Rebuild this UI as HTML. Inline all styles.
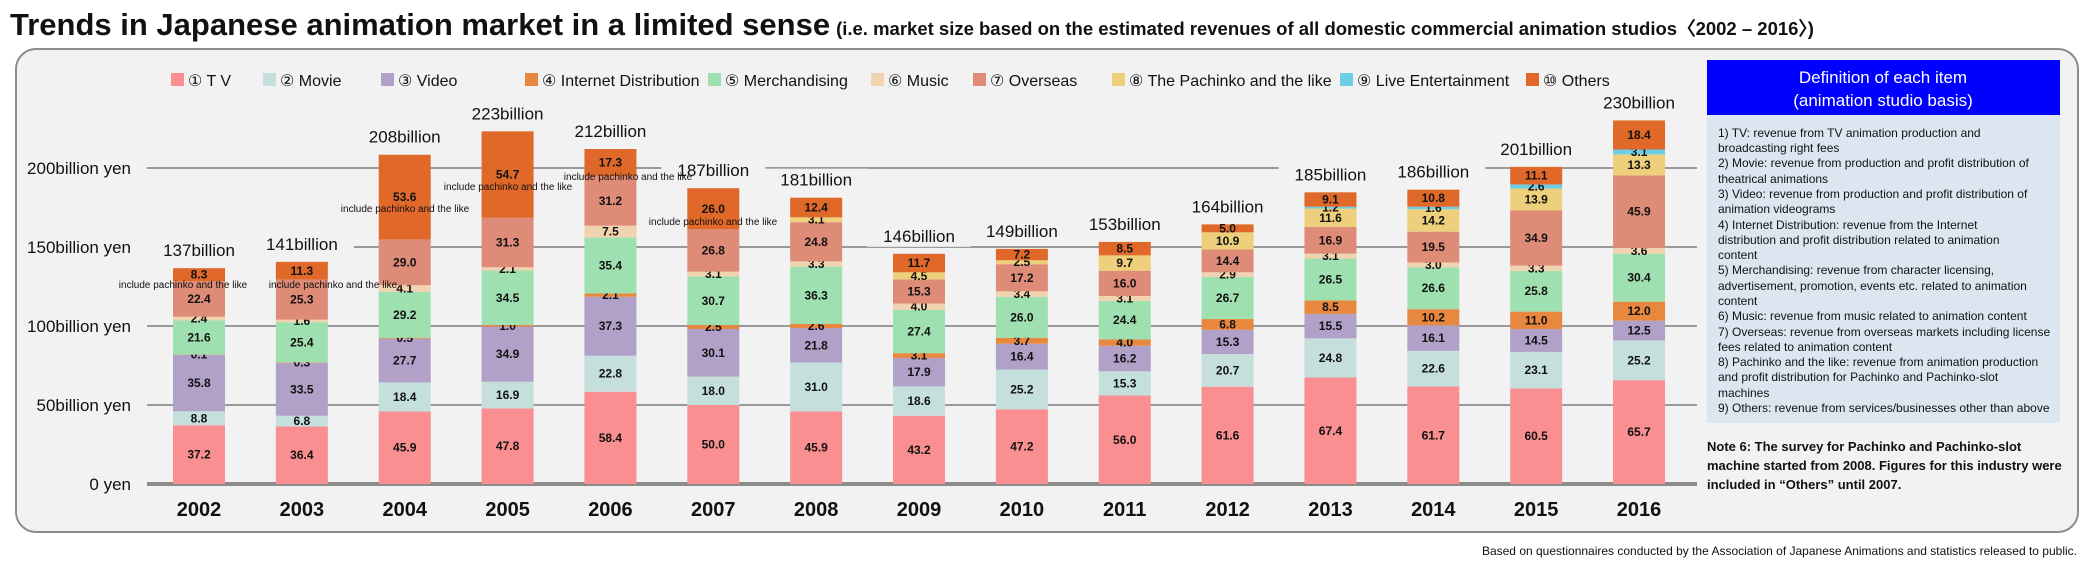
<!DOCTYPE html>
<html><head><meta charset="utf-8">
<style>
body{margin:0;background:#fff;width:2095px;height:588px;overflow:hidden;font-family:"Liberation Sans",sans-serif}
svg{display:block}
</style></head><body>
<svg id="chart" width="2095" height="588" viewBox="0 0 2095 588" xmlns="http://www.w3.org/2000/svg">
<text x="10" y="35" font-size="31" font-weight="bold" fill="#111">Trends in Japanese animation market in a limited sense<tspan font-size="18.5" dx="6">(i.e. market size based on the estimated revenues of all domestic commercial animation studios〈2002 – 2016〉)</tspan></text>
<rect x="16" y="49" width="2062" height="483" rx="20" fill="#f2f2f2" stroke="#8c8c8c" stroke-width="2"/>
<g id="grid"></g>
<g id="bars"></g>
<g id="legend"></g>
<rect x="1707" y="60" width="353" height="55" fill="#0000ff"/>
<text x="1883" y="83" font-size="17" fill="#fff" text-anchor="middle">Definition of each item</text>
<text x="1883" y="106" font-size="17" fill="#fff" text-anchor="middle">(animation studio basis)</text>
<rect x="1707" y="115" width="353" height="308" fill="#dce6f1"/>
<g font-size="12" fill="#111">
<text x="1718" y="137">1) TV: revenue from TV animation production and</text>
<text x="1718" y="152">broadcasting right fees</text>
<text x="1718" y="167">2) Movie: revenue from production and profit distribution of</text>
<text x="1718" y="183">theatrical animations</text>
<text x="1718" y="198">3) Video: revenue from production and profit distribution of</text>
<text x="1718" y="213">animation videograms</text>
<text x="1718" y="229">4) Internet Distribution: revenue from the Internet</text>
<text x="1718" y="244">distribution and profit distribution related to animation</text>
<text x="1718" y="259">content</text>
<text x="1718" y="274">5) Merchandising: revenue from character licensing,</text>
<text x="1718" y="290">advertisement, promotion, events etc. related to animation</text>
<text x="1718" y="305">content</text>
<text x="1718" y="320">6) Music: revenue from music related to animation content</text>
<text x="1718" y="336">7) Overseas: revenue from overseas markets including license</text>
<text x="1718" y="351">fees related to animation content</text>
<text x="1718" y="366">8) Pachinko and the like: revenue from animation production</text>
<text x="1718" y="381">and profit distribution for Pachinko and Pachinko-slot</text>
<text x="1718" y="397">machines</text>
<text x="1718" y="412">9) Others: revenue from services/businesses other than above</text>
</g>
<g font-size="13" font-weight="bold" fill="#111">
<text x="1707" y="451">Note 6: The survey for Pachinko and Pachinko-slot</text>
<text x="1707" y="470">machine started from 2008. Figures for this industry were</text>
<text x="1707" y="489">included in “Others” until 2007.</text>
</g>
<text x="2077" y="555" font-size="12" fill="#111" text-anchor="end">Based on questionnaires conducted by the Association of Japanese Animations and statistics released to public.</text>
</svg>
<script>
const years=["2002","2003","2004","2005","2006","2007","2008","2009","2010","2011","2012","2013","2014","2015","2016"];
const tv=[37.2,36.4,45.9,47.8,58.4,50.0,45.9,43.2,47.2,56.0,61.6,67.4,61.7,60.5,65.7];
const movie=[8.8,6.8,18.4,16.9,22.8,18.0,31.0,18.6,25.2,15.3,20.7,24.8,22.6,23.1,25.2];
const video=[35.8,33.5,27.7,34.9,37.3,30.1,21.8,17.9,16.4,16.2,15.3,15.5,16.1,14.5,12.5];
const internet=[0.1,0.3,0.5,1.0,2.1,2.5,2.6,3.1,3.7,4.0,6.8,8.5,10.2,11.0,12.0];
const merch=[21.6,25.4,29.2,34.5,35.4,30.7,36.3,27.4,26.0,24.4,26.7,26.5,26.6,25.8,30.4];
const music=[2.4,1.6,4.1,2.1,7.5,3.1,3.3,4.0,3.4,3.1,2.9,3.1,3.0,3.3,3.6];
const overseas=[22.4,25.3,29.0,31.3,31.2,26.8,24.8,15.3,17.2,16.0,14.4,16.9,19.5,34.9,45.9];
const pachinko=[0,0,0,0,0,0,3.1,4.5,2.5,9.7,10.9,11.6,14.2,13.9,13.3];
const live=[0,0,0,0,0,0,0,0,0,0,0,1.2,1.6,2.6,3.1];
const others=[8.3,11.3,53.6,54.7,17.3,26.0,12.4,11.7,7.2,8.5,5.0,9.1,10.8,11.1,18.4];
const totals=["137billion","141billion","208billion","223billion","212billion","187billion","181billion","146billion","149billion","153billion","164billion","185billion","186billion","201billion","230billion"];
const yTicks=[0,50,100,150,200];
const yTickLabels=["0 yen","50billion yen","100billion yen","150billion yen","200billion yen"];
const seriesNames=["① T V","② Movie","③ Video","④ Internet Distribution","⑤ Merchandising","⑥ Music","⑦ Overseas","⑧ The Pachinko and the like","⑨ Live Entertainment","⑩ Others"];
const series=[tv,movie,video,internet,merch,music,overseas,pachinko,live,others];
const colors=["#f98f91","#c5e0dc","#b1a0c7","#e8873e","#9fe0b0","#f2d3b0","#de8b78","#edcf7c","#6ccfe6","#e0692a"];
const NS="http://www.w3.org/2000/svg";
const y=v=>484-v*1.58;
const x=i=>199+i*102.86;
const BW=52;
function mk(tag,attrs,parent,text){const e=document.createElementNS(NS,tag);for(const k in attrs)e.setAttribute(k,attrs[k]);if(text!==undefined)e.textContent=text;parent.appendChild(e);return e;}
const grid=document.getElementById('grid');
yTicks.forEach((t,i)=>{
  const l=mk('line',{x1:147,x2:1697,y1:y(t),y2:y(t),stroke:t===0?'#8c8c8c':'#999','stroke-width':t===0?4:2},grid);
  
  
  const tx=mk('text',{x:131,y:y(t)+6,'font-size':17,'text-anchor':'end',fill:'#111'},grid,yTickLabels[i]);
  
  
});
const bars=document.getElementById('bars');
years.forEach((yr,i)=>{
  let acc=0;
  series.forEach((s,k)=>{
    const v=s[i];
    if(v<=0)return;
    const r=mk('rect',{x:x(i)-BW/2,y:y(acc+v),width:BW,height:v*1.58,fill:colors[k]},bars);
    
    
    const t=mk('text',{x:x(i),y:y(acc+v/2)+4,'font-size':12,'font-weight':'bold','text-anchor':'middle',fill:'#111'},bars,v.toFixed(1));
    
    
    acc+=v;
  });
  const ty=y(acc)-12;
  const bg=mk('rect',{x:x(i)-52,y:ty-17,width:104,height:22,fill:'#f2f2f2'},bars);
  
  
  const tt=mk('text',{x:x(i),y:ty,'font-size':17,'text-anchor':'middle',fill:'#111'},bars,totals[i]);
  
  
  const yl=mk('text',{x:x(i),y:516,'font-size':20,'font-weight':'bold','text-anchor':'middle',fill:'#111'},bars,yr);
  
  
});
const notes=[[183,288],[333,288],[405,212],[508,190],[628,180],[713,225]];
notes.forEach(n=>{
  const t=mk('text',{x:n[0],y:n[1],'font-size':10,'text-anchor':'middle',fill:'#111'},bars,'include pachinko and the like');
  
  
});
const lg=document.getElementById('legend');
const lx=[171,263,381,525,708,871,973,1112,1340,1526];
seriesNames.forEach((n,k)=>{
  const g=mk('g',{},lg);
  
  
  mk('rect',{x:lx[k],y:73,width:13,height:13,fill:colors[k]},g);
  mk('text',{x:lx[k]+17,y:86,'font-size':16,fill:'#111'},g,n);
});
</script>
</body></html>
